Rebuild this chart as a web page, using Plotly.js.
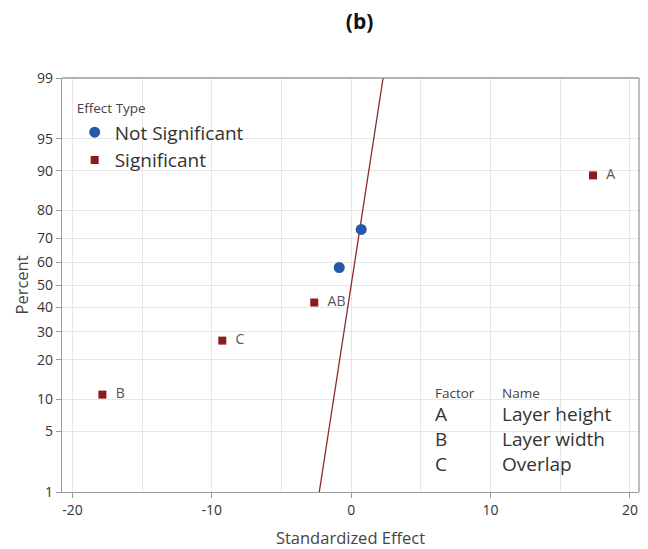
<!DOCTYPE html>
<html>
<head>
<meta charset="utf-8">
<script src="https://cdn.plot.ly/plotly-3.0.1.min.js"></script>
<style>html,body{margin:0;padding:0;background:#fff;}#chart{width:648px;height:549px;}</style>
</head>
<body>
<div id="chart"></div>
<script>
// Data
const sigLabels = ["B", "C", "AB", "A"];
const sigEffect = [-17.85, -9.25, -2.65, 17.35];
const sigPercent = [10.9, 26.6, 42.2, 89.1];

const nsEffect = [-0.86, 0.72];
const nsPercent = [57.8, 73.4];

const refLineEffect = [-2.29, 2.29];
const refLinePercent = [1, 99];

const percentTicks = [1, 5, 10, 20, 30, 40, 50, 60, 70, 80, 90, 95, 99];
const xTicks = [-20, -10, 0, 10, 20];

const factorCodes = ["A", "B", "C"];
const factorNames = ["Layer height", "Layer width", "Overlap"];

// inverse normal CDF (Acklam) for the normal-probability axis
function probit(p) {
  const a = [-3.969683028665376e+01, 2.209460984245205e+02, -2.759285104469687e+02, 1.383577518672690e+02, -3.066479806614716e+01, 2.506628277459239e+00];
  const b = [-5.447609879822406e+01, 1.615858368580409e+02, -1.556989798598866e+02, 6.680131188771972e+01, -1.328068155288572e+01];
  const c = [-7.784894002430293e-03, -3.223964580411365e-01, -2.400758277161838e+00, -2.549732539343734e+00, 4.374664141464968e+00, 2.938163982698783e+00];
  const d = [7.784695709041462e-03, 3.224671290700398e-01, 2.445134137142996e+00, 3.754408661907416e+00];
  const pl = 0.02425, ph = 1 - pl;
  let q, r;
  if (p < pl) {
    q = Math.sqrt(-2 * Math.log(p));
    return (((((c[0]*q+c[1])*q+c[2])*q+c[3])*q+c[4])*q+c[5]) / ((((d[0]*q+d[1])*q+d[2])*q+d[3])*q+1);
  } else if (p <= ph) {
    q = p - 0.5; r = q*q;
    return (((((a[0]*r+a[1])*r+a[2])*r+a[3])*r+a[4])*r+a[5])*q / (((((b[0]*r+b[1])*r+b[2])*r+b[3])*r+b[4])*r+1);
  } else {
    q = Math.sqrt(-2 * Math.log(1 - p));
    return -(((((c[0]*q+c[1])*q+c[2])*q+c[3])*q+c[4])*q+c[5]) / ((((d[0]*q+d[1])*q+d[2])*q+d[3])*q+1);
  }
}
const z = arr => arr.map(v => probit(v / 100));

const FONT = "'Open Sans', 'Noto Sans', sans-serif";
const sigColor = "#8e1b1b";
const nsColor = "#2558a8";

const traces = [
  {
    x: refLineEffect, y: z(refLinePercent), mode: "lines", type: "scatter",
    line: {color: "#8a2b2b", width: 1.3}, showlegend: false, hoverinfo: "skip"
  },
  {
    x: nsEffect, y: z(nsPercent), mode: "markers", type: "scatter",
    name: "Not Significant",
    marker: {symbol: "circle", size: 11, color: nsColor}
  },
  {
    x: sigEffect, y: z(sigPercent), mode: "markers+text", type: "scatter",
    name: "Significant", text: sigLabels.map(s => "\u00a0\u00a0" + s), textposition: "middle right",
    textfont: {family: FONT, size: 14, color: "#555"},
    marker: {symbol: "square", size: 8, color: sigColor}
  }
];

const annotations = [];
annotations.push({xref: "x", yref: "paper", x: 5.9, y: 0.239, text: "Factor", showarrow: false,
  xanchor: "left", yanchor: "middle", font: {family: FONT, size: 13.5, color: "#444"}});
annotations.push({xref: "x", yref: "paper", x: 10.7, y: 0.239, text: "Name", showarrow: false,
  xanchor: "left", yanchor: "middle", font: {family: FONT, size: 13.5, color: "#444"}});
factorCodes.forEach((f, i) => {
  const yy = 0.188 - i * 0.0605;
  annotations.push({xref: "x", yref: "paper", x: 5.9, y: yy, text: f, showarrow: false,
    xanchor: "left", yanchor: "middle", font: {family: FONT, size: 19, color: "#333"}});
  annotations.push({xref: "x", yref: "paper", x: 10.7, y: yy, text: factorNames[i], showarrow: false,
    xanchor: "left", yanchor: "middle", font: {family: FONT, size: 19, color: "#333"}});
});

const layout = {
  width: 648, height: 549,
  margin: {l: 62, r: 9, t: 78, b: 57},
  paper_bgcolor: "#fff", plot_bgcolor: "#fff",
  font: {family: FONT, color: "#333"},
  title: {text: "<b>(b)</b>", x: 0.555, xanchor: "center", y: 0.96, yanchor: "middle",
    font: {family: "'Open Sans', sans-serif", size: 21, color: "#111"}},
  xaxis: {
    range: [-20.75, 20.65], tickvals: xTicks, ticktext: xTicks.map(String),
    showgrid: true, gridcolor: "#e6e6e6", gridwidth: 1,
    minor: {dtick: 5, tick0: 0, showgrid: true, gridcolor: "#e6e6e6", ticks: ""},
    zeroline: false, showline: true, linecolor: "#9a9a9a", linewidth: 1.3, mirror: false,
    ticks: "outside", ticklen: 5, tickcolor: "#9a9a9a",
    tickfont: {family: FONT, size: 14, color: "#333"},
    title: {text: "Standardized Effect", font: {family: FONT, size: 16.5, color: "#444"}, standoff: 14}
  },
  yaxis: {
    range: [probit(0.01), probit(0.99)], tickvals: z(percentTicks), ticktext: percentTicks.map(String),
    showgrid: true, gridcolor: "#e6e6e6", gridwidth: 1,
    zeroline: false, showline: true, linecolor: "#9a9a9a", linewidth: 1.3,
    ticks: "outside", ticklen: 5, tickcolor: "#9a9a9a",
    tickfont: {family: FONT, size: 14, color: "#333"},
    title: {text: "Percent", font: {family: FONT, size: 16.5, color: "#444"}, standoff: 4}
  },
  showlegend: true,
  legend: {
    x: 0.022, y: 0.957, xanchor: "left", yanchor: "top",
    bgcolor: "rgba(0,0,0,0)", borderwidth: 0,
    title: {text: "Effect Type", font: {family: FONT, size: 13.5, color: "#444"}},
    font: {family: FONT, size: 19, color: "#333"},
    tracegroupgap: 0, itemwidth: 30
  },
  annotations: annotations,
  shapes: [
    {type: "line", xref: "paper", yref: "paper", x0: 1, x1: 1, y0: 0, y1: 1, line: {color: "#9a9a9a", width: 1.3}},
    {type: "line", xref: "paper", yref: "paper", x0: 0, x1: 1, y0: 1, y1: 1, line: {color: "#9a9a9a", width: 1.3}}
  ]
};

Plotly.newPlot("chart", traces, layout, {displayModeBar: false, staticPlot: true});
</script>
</body>
</html>
